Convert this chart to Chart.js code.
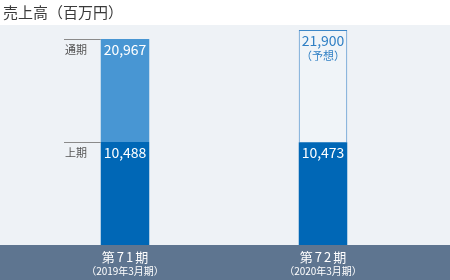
<!DOCTYPE html>
<html>
<head>
<meta charset="utf-8">
<script src="https://cdn.jsdelivr.net/npm/chart.js@4.4.1/dist/chart.umd.min.js"></script>
<style>
  html, body { margin: 0; padding: 0; background: #ffffff; }
  #wrap { position: relative; width: 450px; height: 280px; overflow: hidden; }
  #title { position: absolute; left: 3px; top: 1px; font-family: "Noto Sans CJK JP", "Noto Sans", sans-serif; font-size: 15px; color: #3a3a3a; line-height: 22px; }
  canvas { position: absolute; left: 0; top: 0; }
</style>
</head>
<body>
<div id="wrap">
  <canvas id="c" width="450" height="280"></canvas>
  <div id="title">売上高（百万円）</div>
</div>
<script>
const periods = ["第71期", "第72期"];
const periodSubs = ["（2019年3月期）", "（2020年3月期）"];
const firstHalf = [10488, 10473];
const fullYear = [20967, 21900];
const isForecast = [false, true];
const sideLabels = ["通期", "上期"];
const forecastNote = "（予想）";

const remainder = fullYear.map((v, i) => v - firstHalf[i]);
const fmt = v => v.toLocaleString('en-US');
const FONT = '"Noto Sans CJK JP", "Noto Sans", sans-serif';

const bgPlugin = {
  id: 'bg',
  beforeDraw(chart) {
    const { ctx, chartArea } = chart;
    ctx.save();
    ctx.fillStyle = '#eef2f6';
    ctx.fillRect(0, 25, chart.width, chartArea.bottom - 25);
    ctx.fillStyle = '#5e7590';
    ctx.fillRect(0, chartArea.bottom, chart.width, chart.height - chartArea.bottom);
    ctx.restore();
  }
};

const labelPlugin = {
  id: 'labels',
  afterDatasetsDraw(chart) {
    const { ctx, chartArea } = chart;
    const xs = chart.scales.x;
    const m0 = chart.getDatasetMeta(0);
    const m1 = chart.getDatasetMeta(1);
    ctx.save();
    ctx.textAlign = 'center';
    ctx.textBaseline = 'middle';
    for (let i = 0; i < periods.length; i++) {
      const lower = m0.data[i];
      const upper = m1.data[i];
      const cx = lower.x;
      ctx.fillStyle = '#ffffff';
      ctx.font = '14px ' + FONT;
      ctx.fillText(fmt(firstHalf[i]), cx, lower.y + 11);
      if (isForecast[i]) {
        ctx.fillStyle = '#2f7fc4';
        ctx.font = '14px ' + FONT;
        ctx.fillText(fmt(fullYear[i]), cx, upper.y + 11);
        ctx.font = '11px ' + FONT;
        ctx.fillText(forecastNote, cx, upper.y + 26);
      } else {
        ctx.fillStyle = '#ffffff';
        ctx.font = '14px ' + FONT;
        ctx.fillText(fmt(fullYear[i]), cx, upper.y + 11);
      }
      const px = xs.getPixelForValue(i);
      ctx.fillStyle = '#ffffff';
      ctx.font = '13px ' + FONT;
      ctx.letterSpacing = '2px';
      ctx.fillText(periods[i], px + 1, chartArea.bottom + 12);
      ctx.letterSpacing = '0px';
      ctx.font = '10px ' + FONT;
      ctx.fillText(periodSubs[i], px, chartArea.bottom + 26);
    }
    const b0 = m0.data[0];
    const b1 = m1.data[0];
    const left = b0.x - b0.width / 2;
    ctx.strokeStyle = '#8a8a8a';
    ctx.lineWidth = 1;
    [b1.y, b0.y].forEach((y, k) => {
      const yy = Math.round(y) + 0.5;
      ctx.beginPath();
      ctx.moveTo(64, yy);
      ctx.lineTo(left, yy);
      ctx.stroke();
      ctx.fillStyle = '#555555';
      ctx.font = '11px ' + FONT;
      ctx.textAlign = 'left';
      ctx.fillText(sideLabels[k], 65, y + 11);
    });
    ctx.restore();
  }
};

new Chart(document.getElementById('c'), {
  type: 'bar',
  data: {
    labels: periods,
    datasets: [
      {
        label: '上期',
        data: firstHalf,
        backgroundColor: '#0067b6',
        borderWidth: 0,
        categoryPercentage: 1,
        barPercentage: 0.245
      },
      {
        label: '通期',
        data: remainder,
        backgroundColor: isForecast.map(f => f ? '#f0f4f8' : '#4896d3'),
        borderColor: isForecast.map(f => f ? '#3d87c8' : '#4896d3'),
        borderWidth: isForecast.map(f => f ? { top: 1, left: 1, right: 1, bottom: 0 } : 0),
        categoryPercentage: 1,
        barPercentage: 0.245
      }
    ]
  },
  options: {
    responsive: false,
    animation: false,
    layout: { padding: { left: 26, right: 28, top: 25, bottom: 35 } },
    plugins: { legend: { display: false }, tooltip: { enabled: false }, title: { display: false } },
    scales: {
      x: { stacked: true, display: false, offset: true, grid: { display: false } },
      y: { stacked: true, display: false, min: 0, max: 22400, grid: { display: false } }
    }
  },
  plugins: [bgPlugin, labelPlugin]
});
</script>
</body>
</html>
